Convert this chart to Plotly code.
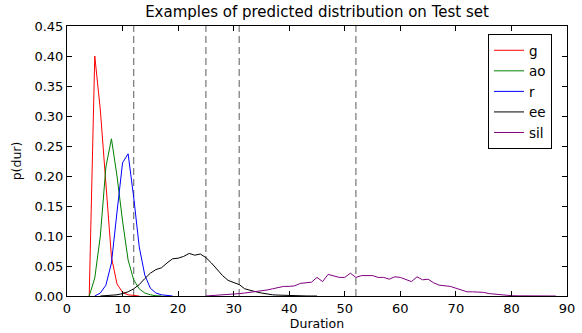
import plotly.graph_objects as go

# Duration bins (x) start points and predicted probabilities per phone
g_start = 4
g_vals = [0, 0.40, 0.31, 0.19, 0.065, 0.02, 0.006, 0.002, 0.0005, 0]

ao_start = 4
ao_vals = [0, 0.03, 0.10, 0.215, 0.262, 0.20, 0.125, 0.06, 0.027, 0.012, 0.005, 0.002, 0.0005, 0]

r_start = 5
r_vals = [0, 0.005, 0.018, 0.055, 0.14, 0.222, 0.237, 0.165, 0.082, 0.035, 0.013, 0.005, 0.002, 0.0005, 0]

ee_start = 6
ee_vals = [0, 0.0005, 0.001, 0.002, 0.004, 0.007, 0.012, 0.019, 0.029, 0.038,
           0.044, 0.047, 0.055, 0.062, 0.063, 0.066, 0.071, 0.068, 0.070, 0.064,
           0.055, 0.045, 0.034, 0.026, 0.022, 0.019, 0.012, 0.009, 0.007, 0.005,
           0.003, 0.002, 0.0015, 0.001, 0.0007, 0.0004, 0.0002, 0.0001, 0, 0]

sil_start = 25
sil_vals = [0, 0.0005, 0.001, 0.0015, 0.002, 0.003, 0.004, 0.005, 0.006, 0.007,
            0.009, 0.010, 0.012, 0.014, 0.016, 0.016, 0.017, 0.021, 0.022, 0.023,
            0.031, 0.024, 0.036, 0.034, 0.031, 0.031, 0.038, 0.031, 0.034, 0.034,
            0.034, 0.031, 0.031, 0.028, 0.032, 0.031, 0.028, 0.024, 0.032, 0.027,
            0.028, 0.022, 0.018, 0.017, 0.016, 0.013, 0.010, 0.007, 0.007, 0.007,
            0.006, 0.004, 0.003, 0.002, 0.001, 0.0005, 0.0003, 0.0002, 0.0001, 0.0001,
            0, 0, 0, 0]

boundaries = [12, 25, 31, 52]

series = [
    ("g", g_start, g_vals, "red"),
    ("ao", ao_start, ao_vals, "#008000"),
    ("r", r_start, r_vals, "blue"),
    ("ee", ee_start, ee_vals, "black"),
    ("sil", sil_start, sil_vals, "#800080"),
]

x_ticks = list(range(0, 91, 10))
y_ticks = [i * 0.05 for i in range(10)]
y_tick_labels = ["%.2f" % v for v in y_ticks]

fig = go.Figure()
for name, start, vals, color in series:
    xs = list(range(start, start + len(vals)))
    fig.add_trace(go.Scatter(x=xs, y=vals, mode="lines", name=name,
                             line=dict(color=color, width=1)))

for b in boundaries:
    fig.add_shape(type="line", xref="x", yref="paper", x0=b, x1=b, y0=0, y1=1,
                  line=dict(color="#808080", width=1.3, dash="7px,4px"), layer="below")

font = "DejaVu Sans, sans-serif"
fig.update_layout(
    width=582, height=333,
    margin=dict(l=67, r=15, t=26, b=37, autoexpand=False),
    paper_bgcolor="white", plot_bgcolor="white",
    font=dict(family=font, size=13, color="black"),
    title=dict(text="Examples of predicted distribution on Test set",
               x=(67 + 567) / 2 / 582, xanchor="center",
               y=1 - 12 / 333, yanchor="middle", yref="container",
               font=dict(size=15, family=font)),
    legend=dict(x=(488 - 67) / 500, y=(296 - 34) / 270, xanchor="left", yanchor="top",
                bordercolor="black", borderwidth=1, bgcolor="white",
                font=dict(size=13.5, family=font), itemwidth=30,
                tracegroupgap=0),
    showlegend=True,
)
fig.update_xaxes(range=[0, 90], tickvals=x_ticks, ticks="inside", ticklen=5,
                 tickcolor="black", showline=True, linecolor="black", linewidth=1,
                 mirror="allticks", showgrid=False, zeroline=False, automargin=False,
                 tickfont=dict(size=13),
                 title=dict(text="Duration", standoff=2, font=dict(size=12.5)))
fig.update_yaxes(range=[0, 0.45], tickvals=y_ticks, ticktext=y_tick_labels,
                 ticks="inside", ticklen=5, tickcolor="black",
                 showline=True, linecolor="black", linewidth=1,
                 mirror="allticks", showgrid=False, zeroline=False, automargin=False,
                 tickfont=dict(size=13),
                 title=dict(text="p(dur)", standoff=10, font=dict(size=12.5)))

fig.write_html("out.html", config={"displayModeBar": False},
               post_script="document.body.style.margin='0px';document.body.style.padding='0px';")
